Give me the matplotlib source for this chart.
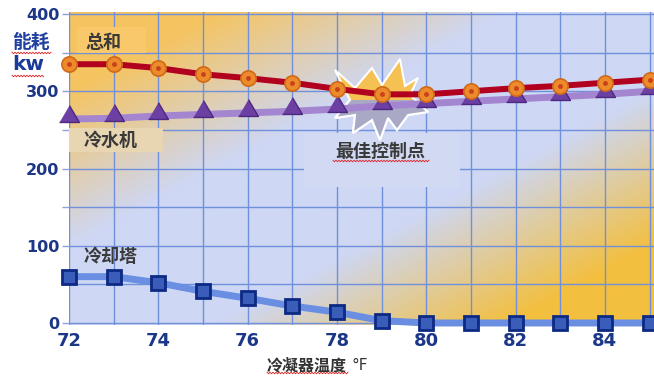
import matplotlib.pyplot as plt
import numpy as np
from matplotlib.patches import Polygon, Rectangle
from matplotlib.colors import to_rgb

plt.rcParams['font.family'] = ['Noto Sans CJK SC', 'DejaVu Sans']

temps = [72, 73, 74, 75, 76, 77, 78, 79, 80, 81, 82, 83, 84, 85]
total = [335, 335, 330, 322, 317, 311, 303, 296, 296, 300, 304, 307, 311, 315]
chiller = [264, 265, 268, 270, 272, 274, 277, 281, 284, 287, 290, 293, 296, 300]
tower = [60, 60, 52, 41, 32, 22, 14, 3, 0, 0, 0, 0, 0, 0]

xticks = list(range(72, 86))
xlabels = [str(t) if t % 2 == 0 else "" for t in xticks]
ygrid = list(range(0, 401, 50))
ylabels = [str(t) if t % 100 == 0 else "" for t in ygrid]

W, H = 654, 376
fig = plt.figure(figsize=(W / 100, H / 100), dpi=100)
ax = fig.add_axes([69 / W, 51 / H, 585 / W, 313 / H])


def fx(px):
    return px / W


def fy(py):
    return 1 - py / H


# background: orange in two corners, pale blue across the diagonal
u, v = np.meshgrid(np.linspace(0, 1, 300), np.linspace(1, 0, 200))
d = u - v
blue = np.array(to_rgb('#ced7f4'))
org1 = np.array(to_rgb('#f5c460'))
org2 = np.array(to_rgb('#f3bf3e'))
w1 = np.clip((-d - 0.25) / 0.5, 0, 1)
w2 = np.clip((d - 0.25) / 0.5, 0, 1)
img = (blue[None, None, :] * (1 - w1 - w2)[..., None]
       + org1 * w1[..., None] + org2 * w2[..., None])
ax.imshow(img, extent=[0, 1, 0, 1], transform=ax.transAxes, aspect='auto', zorder=0)

ax.set_xticks(xticks)
ax.set_xticklabels(xlabels)
ax.set_yticks(ygrid)
ax.set_yticklabels(ylabels)
ax.grid(True, color='#7090dc', linewidth=1.0, zorder=1)
for s in ax.spines.values():
    s.set_visible(False)
ax.tick_params(axis='x', length=0, pad=5, labelsize=13, labelcolor='#1c3688')
ax.tick_params(axis='y', length=5, width=1, color='#8fa3d8', pad=2, labelsize=11.5,
               labelcolor='#1c3688')
for lab in ax.get_xticklabels() + ax.get_yticklabels():
    lab.set_fontweight('bold')
    lab.set_family('DejaVu Sans')


def add_fig_patch(p, clip=None):
    p.set_transform(fig.transFigure)
    ax.add_artist(p)
    if clip is None:
        p.set_clip_on(False)
    else:
        p.set_clip_path(clip)
        p.set_clip_on(True)
    return p


# label boxes
add_fig_patch(Rectangle((fx(77), fy(53)), 69 / W, 26 / H,
                        facecolor='#f8c86a', edgecolor='none', zorder=2))
add_fig_patch(Rectangle((fx(69), fy(152)), 94 / W, 24 / H,
                        facecolor='#e8d5b2', edgecolor='none', zorder=2))
add_fig_patch(Rectangle((fx(304), fy(187)), 156 / W, 54 / H,
                        facecolor='#d2daf3', edgecolor='none', zorder=2))

# starburst at the optimum point (offsets in pixels), yellow above, grey below
star_px = [(-45, 30), (-25, 12), (-8, 32), (2, 15), (20, 41), (25, 14), (38, 22),
           (30, 5), (48, -12), (28, -15), (17, -30), (8, -18), (0, -40), (-8, -20),
           (-27, -33), (-25, -15), (-45, -18), (-30, 0)]
cx, cy = 380, 100
verts = [(fx(cx + a), fy(cy - b)) for a, b in star_px]
add_fig_patch(Polygon(verts, closed=True, facecolor='#f4c152',
                      edgecolor='white', linewidth=1.5, zorder=2.5))
lower = Rectangle((fx(320), fy(150)), 120 / W, 50 / H, transform=fig.transFigure)
add_fig_patch(Polygon(verts, closed=True, facecolor='#a9a9c6',
                      edgecolor='white', linewidth=1.5, zorder=2.6), clip=lower)

tri = [(-1, -0.3), (1, -0.3), (0, 1.4)]

ax.plot(temps, tower, color='#6a8ee2', linewidth=5, zorder=3, clip_on=False,
        marker='s', markersize=10, markerfacecolor='#3b5dba', markeredgecolor='#0c2a84',
        markeredgewidth=2)
ax.plot(temps, chiller, color='#a486d0', linewidth=5, zorder=4, clip_on=False,
        marker=tri, markersize=20, markerfacecolor='#6c3fa2', markeredgecolor='#4d2880',
        markeredgewidth=1)
ax.plot(temps, total, color='#b2001f', linewidth=4.3, zorder=5, clip_on=False,
        marker='o', markersize=11, markerfacecolor='#ec8a2c', markeredgecolor='#cf6a18',
        markeredgewidth=1.2)
ax.plot(temps, total, linestyle='none', zorder=6, clip_on=False,
        marker='o', markersize=3.5, markerfacecolor='#c8421a', markeredgewidth=0)

ax.set_xlim(72, 85.1)
ax.set_ylim(-2.6, 402.6)

txt = dict(fontsize=13, fontweight='bold', color='#3a3a3a', va='center', zorder=7)
fig.text(fx(85), fy(42), "总和", ha='left', **txt)
fig.text(fx(84), fy(140), "冷水机", ha='left', **txt)
fig.text(fx(84), fy(256), "冷却塔", ha='left', **txt)
fig.text(fx(380), fy(151), "最佳控制点", ha='center', **txt)

fig.text(fx(12), fy(42), "能耗", ha='left', va='center', fontsize=13.5,
         fontweight='bold', color='#2040a0')
fig.text(fx(12), fy(65), "kw", ha='left', va='center', fontsize=14.5,
         fontweight='bold', color='#1a3a9a', family='DejaVu Sans')
fig.text(fx(267), fy(365), "冷凝器温度", ha='left', va='center', fontsize=11.5,
         fontweight='bold', color='#333333')
fig.text(fx(352), fy(365), "°F", ha='left', va='center', fontsize=11,
         color='#333333', family='DejaVu Sans')

# red wavy underlines
for x0, x1, y0 in [(12, 52, 53), (12, 44, 76), (333, 429, 161), (267, 348, 373)]:
    xs = np.arange(x0, x1 + 0.1, 1.5)
    ys = y0 + np.where(np.arange(len(xs)) % 2 == 0, -0.8, 0.8)
    fig.add_artist(plt.Line2D([fx(x) for x in xs], [fy(y) for y in ys],
                              transform=fig.transFigure, color='#e02020', linewidth=0.6))

fig.savefig('out.png', dpi=100)
